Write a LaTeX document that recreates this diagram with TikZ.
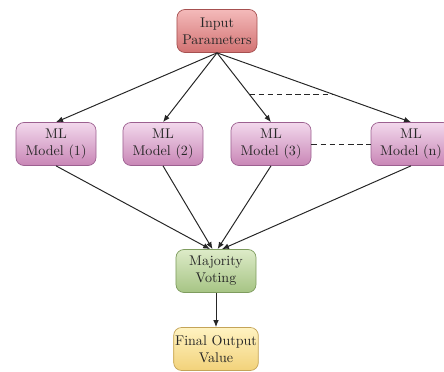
\documentclass[tikz,border=0pt]{standalone}
\usetikzlibrary{calc,arrows.meta}

\definecolor{inTop}{HTML}{F4BABA}
\definecolor{inBot}{HTML}{D27272}
\definecolor{inLine}{HTML}{A65050}
\definecolor{mlTop}{HTML}{F3D8EC}
\definecolor{mlBot}{HTML}{C886B6}
\definecolor{mlLine}{HTML}{9C6090}
\definecolor{voteTop}{HTML}{DDEBC8}
\definecolor{voteBot}{HTML}{A6C484}
\definecolor{voteLine}{HTML}{7E9C5E}
\definecolor{outTop}{HTML}{FFF3C2}
\definecolor{outBot}{HTML}{F2D27A}
\definecolor{outLine}{HTML}{C4A458}

\tikzset{
	box/.style={rounded corners=0.2cm, minimum width=2cm, minimum height=1.075cm,
		align=center, inner sep=1pt, text=black!85, line width=0.5pt},
	inbox/.style={box, draw=inLine, top color=inTop, bottom color=inBot},
	mlbox/.style={box, draw=mlLine, top color=mlTop, bottom color=mlBot},
	votebox/.style={box, draw=voteLine, top color=voteTop, bottom color=voteBot},
	outbox/.style={box, draw=outLine, top color=outTop, bottom color=outBot},
	arr/.style={-{Latex[length=5pt, width=4pt]}, line width=0.7pt, color=black!85},
	dots/.style={line width=0.7pt, color=black!85, dash pattern=on 4pt off 2.5pt}
}

\begin{document}
\begin{tikzpicture}[x=0.025cm, y=-0.025cm]
		%%%%% START %%%%%
		
		\useasboundingbox (0, 0) rectangle (444, 372);
		\clip (0, 0) rectangle (444, 372);
		
		\node[inbox] (input) at (217, 31) {Input\\Parameters};
		
		\node[mlbox] (ml1) at (56, 144) {ML\\Model (1)};
		\node[mlbox] (ml2) at (163, 144) {ML\\Model (2)};
		\node[mlbox] (ml3) at (271, 144) {ML\\Model (3)};
		\node[mlbox] (mln) at (411, 144) {ML\\Model (n)};
		
		\node[votebox] (vote) at (216, 271) {Majority\\Voting};
		\node[outbox] (out) at (216, 349) {Final Output\\Value};
		
		\draw[arr] (input.south) -- (ml1.north);
		\draw[arr] (input.south) -- (ml2.north);
		\draw[arr] (input.south) -- (ml3.north) coordinate[pos=0.6] (d1);
		\draw[arr] (input.south) -- (mln.north);
		\path (input.south) -- (mln.north) coordinate[pos=0.6] (d2);
		
		\draw[dots] (d1) -- (d2);
		\draw[dots] (ml3.east) -- (mln.west);
		
		\draw[arr] (ml1.south) -- (vote.105);
		\draw[arr] (ml2.south) -- (vote.99);
		\draw[arr] (ml3.south) -- (vote.86);
		\draw[arr] (mln.south) -- (vote.75);
		
		\draw[arr] (vote.south) -- (out.north);
		
		%%%%% END %%%%%
	\end{tikzpicture}
\end{document}
